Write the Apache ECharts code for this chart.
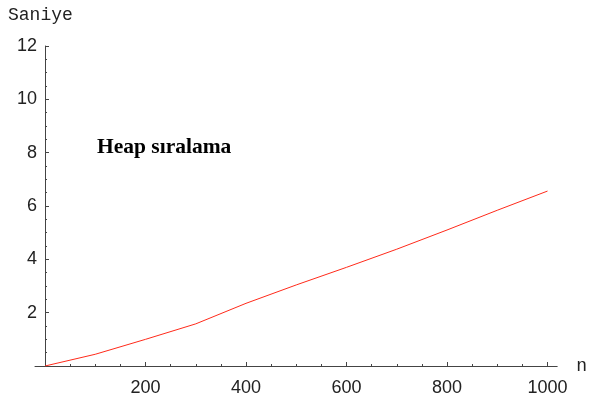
<!DOCTYPE html>
<html>
<head>
<meta charset="utf-8">
<script src="https://cdn.jsdelivr.net/npm/echarts@6/dist/echarts.min.js"></script>
<style>html,body{margin:0;padding:0;background:#fff}#c{width:590px;height:403px}</style>
</head>
<body>
<div id="c"></div>
<script>
var nValues = [0, 100, 200, 300, 400, 500, 600, 700, 800, 900, 1000];
var seconds = [0, 0.44, 1.0, 1.58, 2.35, 3.04, 3.70, 4.38, 5.10, 5.84, 6.56];
var yTitle = 'Saniye';
var xTitle = 'n';
var annotation = 'Heap sıralama';

var axisColor = '#444';
var labelFont = {color: '#222', fontFamily: 'Liberation Sans', fontSize: 18};
var chart = echarts.init(document.getElementById('c'), null, {renderer: 'canvas'});
chart.setOption({
  animation: false,
  backgroundColor: '#fff',
  title: [
    {text: yTitle, left: 3, top: 1, textStyle: {fontFamily: 'Liberation Mono', fontSize: 18, fontWeight: 'normal', color: '#222'}},
    {text: annotation, left: 92, top: 131, textStyle: {fontFamily: 'Liberation Serif', fontSize: 21.5, fontWeight: 'bold', color: '#000'}}
  ],
  grid: [
    {left: 45, right: 42.5, top: 46, bottom: 37},
    {left: 35, right: 29, top: 46, bottom: 37}
  ],
  xAxis: [
    {type: 'value', gridIndex: 0, min: 0, max: 1000, interval: 200,
     axisLine: {show: false},
     axisTick: {show: true, inside: true, length: 4, lineStyle: {color: axisColor}},
     minorTick: {show: true, splitNumber: 4, length: 2, lineStyle: {color: axisColor}},
     splitLine: {show: false},
     axisLabel: Object.assign({showMinLabel: false, margin: 13, formatter: function (v) { return String(v); }}, labelFont)},
    {type: 'value', gridIndex: 1, min: 0, max: 1,
     name: xTitle, nameLocation: 'end', nameGap: 19,
     nameTextStyle: {fontFamily: 'Liberation Mono', fontSize: 18, color: '#222', verticalAlign: 'middle'},
     axisLine: {show: true, lineStyle: {color: axisColor, width: 1}},
     axisTick: {show: false}, axisLabel: {show: false}, splitLine: {show: false}}
  ],
  yAxis: [
    {type: 'value', gridIndex: 0, min: 0, max: 12, interval: 2,
     axisLine: {show: true, onZero: false, lineStyle: {color: axisColor, width: 1}},
     axisTick: {show: true, inside: true, length: 4, lineStyle: {color: axisColor}},
     minorTick: {show: true, splitNumber: 4, length: 2, lineStyle: {color: axisColor}},
     splitLine: {show: false},
     axisLabel: Object.assign({showMinLabel: false, margin: 8}, labelFont)},
    {type: 'value', gridIndex: 1, min: 0, max: 1, show: false}
  ],
  series: [{
    type: 'line', xAxisIndex: 0, yAxisIndex: 0,
    data: nValues.map(function (n, i) { return [n, seconds[i]]; }),
    showSymbol: false, symbol: 'none',
    lineStyle: {color: '#ff2a1a', width: 1}
  }]
});
</script>
</body>
</html>
